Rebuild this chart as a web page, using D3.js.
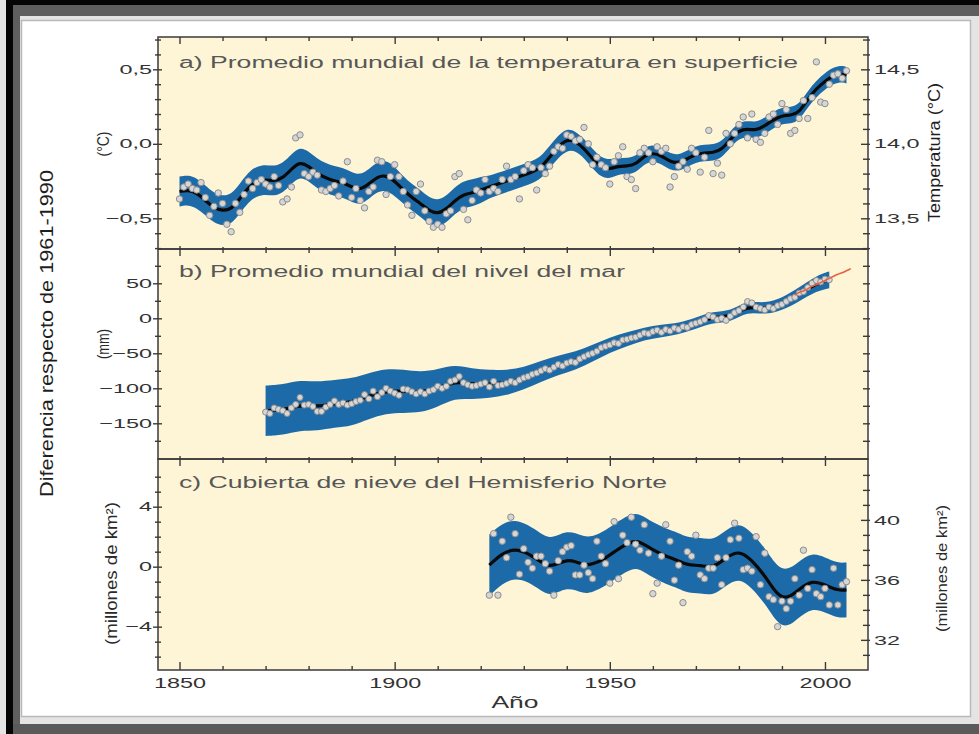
<!DOCTYPE html>
<html><head><meta charset="utf-8">
<script src="https://cdn.jsdelivr.net/npm/d3@7"></script>
<style>html,body{margin:0;padding:0;background:#fff;} svg{display:block;}</style>
</head><body>
<svg id="chart" width="979" height="734"></svg>
<script>
// ---------------- DATA ----------------
const xTickYears = [1850, 1860, 1870, 1880, 1890, 1900, 1910, 1920, 1930, 1940, 1950, 1960, 1970, 1980, 1990, 2000];
const xLabelYears = [1850, 1900, 1950, 2000];

// a) Global mean surface temperature anomaly (°C), annual 1850-2005
const tempStartYear = 1850;
const tempAnnual = [
 -0.37,-0.29,-0.27,-0.30,-0.31,-0.26,-0.36,-0.48,-0.42,-0.33,
 -0.40,-0.54,-0.59,-0.40,-0.46,-0.34,-0.25,-0.30,-0.26,-0.24,
 -0.27,-0.29,-0.22,-0.28,-0.39,-0.37,-0.29,0.04,0.06,-0.20,
 -0.22,-0.19,-0.21,-0.31,-0.32,-0.30,-0.28,-0.35,-0.25,-0.12,
 -0.36,-0.30,-0.38,-0.43,-0.32,-0.29,-0.11,-0.12,-0.34,-0.22,
 -0.14,-0.22,-0.32,-0.41,-0.48,-0.32,-0.27,-0.45,-0.52,-0.56,
 -0.54,-0.56,-0.47,-0.45,-0.22,-0.20,-0.44,-0.51,-0.38,-0.31,
 -0.33,-0.24,-0.32,-0.30,-0.32,-0.24,-0.15,-0.24,-0.22,-0.37,
 -0.18,-0.14,-0.16,-0.31,-0.16,-0.20,-0.15,-0.05,-0.02,-0.03,
 0.06,0.05,0.02,0.03,0.11,0.00,-0.14,-0.09,-0.14,-0.16,
 -0.27,-0.12,-0.08,-0.02,-0.22,-0.24,-0.30,-0.06,-0.03,-0.06,
 -0.12,-0.02,-0.05,-0.03,-0.29,-0.22,-0.15,-0.12,-0.17,-0.03,
 -0.06,-0.19,-0.09,0.09,-0.20,-0.13,-0.21,0.07,0.00,0.07,
 0.13,0.18,0.04,0.20,0.03,0.01,0.07,0.18,0.20,0.13,
 0.27,0.23,0.07,0.09,0.17,0.29,0.17,0.31,0.55,0.28,
 0.27,0.40,0.46,0.47,0.44,0.49
];
const tempSmoothYears = [1850,1852,1854,1856,1858,1860,1862,1864,1866,1868,1870,1872,1874,1876,1878,1880,1882,1884,1886,1888,1890,1892,1894,1896,1898,1900,
 1902,1904,1906,1908,1910,1912,1914,1916,1918,1920,1922,1924,1926,1928,1930,1932,1934,1936,1938,1940,1942,1944,1946,1948,1950,
 1952,1954,1956,1958,1960,1962,1964,1966,1968,1970,1972,1974,1976,1978,1980,1982,1984,1986,1988,1990,1992,1994,1996,1998,2000,2002,2004,2005];
const tempSmooth = [-0.32,-0.31,-0.33,-0.38,-0.43,-0.45,-0.44,-0.37,-0.29,-0.25,-0.24,-0.25,-0.23,-0.17,-0.12,-0.15,-0.20,-0.23,-0.25,-0.26,-0.29,-0.31,-0.27,-0.22,-0.21,-0.25,
 -0.31,-0.36,-0.40,-0.45,-0.47,-0.44,-0.38,-0.34,-0.33,-0.31,-0.29,-0.27,-0.25,-0.23,-0.21,-0.19,-0.16,-0.09,-0.02,0.03,0.02,-0.03,-0.10,-0.16,-0.17,
 -0.15,-0.15,-0.14,-0.08,-0.06,-0.08,-0.12,-0.13,-0.10,-0.07,-0.06,-0.06,-0.04,0.03,0.09,0.10,0.09,0.12,0.16,0.19,0.19,0.21,0.30,0.37,0.42,0.46,0.47,0.46];
const tempBandHalf = [0.10,0.10,0.10,0.10,0.10,0.10,0.10,0.10,0.10,0.10,0.10,0.10,0.10,0.10,0.10,0.10,0.10,0.10,0.10,0.10,0.10,0.10,0.10,0.10,0.10,0.10,
 0.09,0.09,0.09,0.09,0.09,0.09,0.09,0.09,0.09,0.09,0.075,0.075,0.075,0.075,0.075,0.075,0.075,0.075,0.075,0.075,0.065,0.065,0.065,0.065,0.065,
 0.055,0.055,0.055,0.055,0.055,0.055,0.055,0.055,0.055,0.055,0.055,0.055,0.055,0.055,0.055,0.055,0.055,0.055,0.055,0.055,0.055,0.055,0.055,0.055,0.055,0.055,0.055,0.055];
const tempLeftMajor = [-0.5, 0, 0.5];
const tempLeftLabels = ["\u22120,5", "0,0", "0,5"];
const tempLeftMinor = [-0.7,-0.6,-0.4,-0.3,-0.2,-0.1,0.1,0.2,0.3,0.4,0.6,0.7];
const tempRightMajor = [13.5, 14.0, 14.5];
const tempRightLabels = ["13,5", "14,0", "14,5"];
const tempRightMinor = [13.3,13.4,13.6,13.7,13.8,13.9,14.1,14.2,14.3,14.4,14.6,14.7];

// b) Global average sea level anomaly (mm), annual 1870-2001
const seaStartYear = 1870;
const seaAnnual = [
 -134,-136,-128,-130,-132,-136,-128,-123,-113,-124,
 -123,-126,-133,-133,-127,-123,-118,-123,-121,-124,
 -122,-119,-117,-109,-115,-104,-112,-106,-100,-104,
 -107,-110,-101,-102,-105,-108,-105,-108,-104,-102,
 -97,-100,-97,-90,-88,-83,-92,-95,-97,-96,
 -94,-92,-98,-90,-96,-95,-93,-90,-92,-88,
 -85,-83,-80,-78,-75,-72,-74,-70,-66,-68,
 -64,-62,-63,-58,-55,-52,-50,-47,-42,-40,
 -38,-35,-36,-31,-30,-28,-27,-24,-21,-22,
 -19,-17,-20,-16,-18,-14,-16,-12,-13,-9,
 -7,-5,-2,4,2,-2,0,-3,3,8,
 11,16,24,22,16,14,12,16,14,18,
 20,24,28,30,36,38,44,50,54,52,
 56,55
];
const seaSmoothYears = [1870,1874,1878,1882,1886,1890,1894,1898,1902,1906,1910,1914,1918,1922,1926,1930,1934,1938,1942,1946,1950,1954,1958,1962,1966,1970,1974,1978,1982,1986,1990,1994,1998,2001];
const seaSmooth = [-132,-131,-124,-126,-122,-120,-111,-104,-104,-106,-100,-90,-94,-94,-92,-86,-76,-67,-61,-50,-38,-30,-22,-18,-15,-7,2,2,18,13,20,34,50,55];
const seaBandHalf = [36,36,36,35,34,34,33,32,31,29,27,24,22,20,18,16,15,14,13,12,11,10,9,9,8,8,8,8,8,8,9,10,11,12];
const satYears = [1993,1994,1995,1996,1997,1998,1999,2000,2001,2002,2003,2004,2005,2006];
const satValues = [33,37,39,42,46,48,51,54,57,60,63,65,68,71];
const seaLeftMajor = [-150, -100, -50, 0, 50];
const seaLeftLabels = ["\u2212150", "\u2212100", "\u221250", "0", "50"];
const seaMinor = [-175,-125,-75,-25,25,75];
const seaRightTicks = [-175,-150,-125,-100,-75,-50,-25,0,25,50,75];

// c) Northern Hemisphere snow cover anomaly (million km²), annual 1922-2005
const snowStartYear = 1922;
const snowAnnual = [
 -1.9,2.2,-1.9,1.7,0.6,3.3,2.2,-0.5,1.2,0.3,
 -0.1,0.7,0.7,0.2,-0.3,-1.9,0.4,1.0,1.3,1.4,
 -0.55,-0.55,0.1,-0.4,-0.8,1.7,0.7,0.2,-1.1,3.0,
 -0.8,2.1,1.6,3.3,1.5,1.1,2.8,0.9,-1.8,-1.1,
 0.7,2.8,1.7,-0.9,0.1,-2.4,1.0,0.7,2.1,-0.55,
 -0.8,-0.1,-0.1,0.6,-1.2,0.6,1.8,2.9,1.9,-0.2,
 -0.1,-0.3,2.0,-1.2,0.9,-2.0,-2.2,-4.0,-2.3,-2.8,
 -2.3,-0.8,-1.9,1.1,-1.45,-0.2,-1.8,-2.0,-1.45,-2.55,
 -0.1,-2.55,-1.2,-1.0
];
const snowSmoothYears = [1922,1925,1928,1931,1934,1936,1938,1940,1942,1944,1946,1949,1952,1955,1957,1960,1963,1966,1968,1971,1974,1977,1980,1983,1986,1988,1990,1992,1994,1997,2000,2003,2005];
const snowSmooth = [0.1,0.9,1.2,0.9,0.3,0.0,0.2,0.45,0.35,0.1,0.15,0.55,1.2,1.7,1.7,1.1,0.7,0.4,0.1,0.1,-0.1,0.6,1.1,0.45,-0.6,-1.5,-2.1,-2.0,-1.5,-0.9,-1.2,-1.6,-1.55];
const snowBandHalf = [2.05,2.0,1.95,1.9,1.9,1.9,1.9,1.9,1.9,1.9,1.85,1.85,1.85,1.83,1.83,1.85,1.85,1.85,1.85,1.85,1.85,1.85,1.85,1.85,1.85,1.87,1.89,1.89,1.87,1.85,1.83,1.83,1.83];
const snowLeftMajor = [-4, 0, 4];
const snowLeftLabels = ["\u22124", "0", "4"];
const snowLeftMinor = [-6,-5,-3,-2,-1,1,2,3,5,6];
const snowRightMajor = [32, 36, 40];
const snowRightLabels = ["32", "36", "40"];
const snowRightMinor = [31,33,34,35,37,38,39,41,42,43];

// ---------------- DRAW ----------------
const svg = d3.select('#chart');
const FONT = 'Liberation Sans, Arial, Helvetica, sans-serif';
const CREAM = '#fdf5d6', BLUE = '#1d6aa9', FRAME = '#3a3a3a';

// outer photo frame
svg.append('rect').attr('x',0).attr('y',0).attr('width',979).attr('height',734).attr('fill','#e4e4e4');
svg.append('rect').attr('x',6).attr('y',0).attr('width',973).attr('height',5).attr('fill','#050505');
svg.append('rect').attr('x',6).attr('y',0).attr('width',7).attr('height',734).attr('fill','#050505');
svg.append('rect').attr('x',13).attr('y',5).attr('width',966).attr('height',11).attr('fill','#5f5f5f');
svg.append('rect').attr('x',13).attr('y',5).attr('width',7).attr('height',729).attr('fill','#5f5f5f');
svg.append('rect').attr('x',13).attr('y',724).attr('width',966).attr('height',10).attr('fill','#5a5a5a');
svg.append('rect').attr('x',21.5).attr('y',20.5).attr('width',949).attr('height',696).attr('fill','#ffffff').attr('stroke','#b9b9b9').attr('stroke-width',1.5);

const x = d3.scaleLinear().domain([1845, 2010]).range([158, 868]);
const yA = d3.scaleLinear().domain([-0.706, 0.717]).range([249, 37]);
const yAR = d3.scaleLinear().domain([13.294, 14.717]).range([249, 37]);
const yB = d3.scaleLinear().domain([-201, 99]).range([459, 249]);
const yC = d3.scaleLinear().domain([-6.89, 7.18]).range([670, 459]);
const yCR = d3.scaleLinear().domain([-6.89 + 36.88, 7.18 + 36.88]).range([670, 459]);

const panels = [{top:37,bottom:249},{top:249,bottom:459},{top:459,bottom:670}];
panels.forEach(p => {
  svg.append('rect').attr('x',158).attr('y',p.top).attr('width',710).attr('height',p.bottom-p.top).attr('fill',CREAM);
});

function drawSeries(yScale, startYear, annual, sYears, sVals, sHalf, r) {
  const sm = sYears.map((yr,i)=>({yr, v:sVals[i], h:sHalf[i]}));
  svg.append('path').datum(sm)
    .attr('d', d3.area().curve(d3.curveBasis).x(d=>x(d.yr)).y0(d=>yScale(d.v - d.h)).y1(d=>yScale(d.v + d.h)))
    .attr('fill', BLUE);
  svg.append('path').datum(sm)
    .attr('d', d3.line().curve(d3.curveBasis).x(d=>x(d.yr)).y(d=>yScale(d.v)))
    .attr('fill','none').attr('stroke','#0a0a0a').attr('stroke-width',3.2);
  svg.append('g').selectAll('circle').data(annual).join('circle')
    .attr('cx',(d,i)=>x(startYear+i)).attr('cy',d=>yScale(d)).attr('r',r)
    .attr('fill','#d6d6d6').attr('stroke','#8c8c8c').attr('stroke-width',1);
}
drawSeries(yA, tempStartYear, tempAnnual, tempSmoothYears, tempSmooth, tempBandHalf, 3.2);
drawSeries(yB, seaStartYear, seaAnnual, seaSmoothYears, seaSmooth, seaBandHalf, 3.0);
svg.append('path').datum(satYears.map((yr,i)=>({yr, v:satValues[i]})))
  .attr('d', d3.line().curve(d3.curveMonotoneX).x(d=>x(d.yr)).y(d=>yB(d.v)))
  .attr('fill','none').attr('stroke','#e8613f').attr('stroke-width',1.6);
drawSeries(yC, snowStartYear, snowAnnual, snowSmoothYears, snowSmooth, snowBandHalf, 3.2);

// panel frames
panels.forEach(p => {
  svg.append('rect').attr('x',158).attr('y',p.top).attr('width',710).attr('height',p.bottom-p.top)
    .attr('fill','none').attr('stroke',FRAME).attr('stroke-width',1.5);
});

function styleAxis(g) {
  g.select('.domain').remove();
  g.selectAll('line').attr('stroke', FRAME).attr('stroke-width', 1.4);
  g.attr('font-family', FONT).attr('font-size', 13).attr('fill','#333');
  g.selectAll('text').attr('fill', '#333');
}

// x ticks on each panel (inward)
panels.forEach((p, idx) => {
  const minorYears = xTickYears.filter(v => !xLabelYears.includes(v));
  svg.append('g').attr('transform',`translate(0,${p.top})`)
    .call(d3.axisBottom(x).tickValues(minorYears).tickSize(4).tickFormat('')).call(styleAxis);
  svg.append('g').attr('transform',`translate(0,${p.top})`)
    .call(d3.axisBottom(x).tickValues(xLabelYears).tickSize(7).tickFormat('')).call(styleAxis);
  const bm = idx === 2 ? 4 : 2, bM = idx === 2 ? 8 : 3;
  svg.append('g').attr('transform',`translate(0,${p.bottom})`)
    .call(d3.axisTop(x).tickValues(minorYears).tickSize(bm).tickFormat('')).call(styleAxis);
  svg.append('g').attr('transform',`translate(0,${p.bottom})`)
    .call(d3.axisTop(x).tickValues(xLabelYears).tickSize(bM).tickFormat('')).call(styleAxis);
});
// x labels
const xl = svg.append('g').attr('transform','translate(0,670)')
  .call(d3.axisBottom(x).tickValues(xLabelYears).tickSize(0).tickPadding(7).tickFormat(d3.format('d')))
  .call(styleAxis);
xl.attr('font-size', 15);
xl.selectAll('text').attr('transform','scale(1.56,1)').attr('fill','#333');

// y axes
function leftAxis(scale, major, labels, minor) {
  svg.append('g').attr('transform','translate(158,0)')
    .call(d3.axisLeft(scale).tickValues(minor).tickSize(3).tickFormat('')).call(styleAxis)
    .selectAll('line').attr('x1', 3);
  const g = svg.append('g').attr('transform','translate(158,0)')
    .call(d3.axisLeft(scale).tickValues(major).tickSize(5).tickPadding(1).tickFormat((d,i)=>labels[i])).call(styleAxis);
  g.selectAll('line').attr('x1', 4);
  g.selectAll('text').attr('x', -6/1.8).attr('transform','scale(1.8,1)');
}
function rightAxis(scale, major, labels, minor) {
  svg.append('g').attr('transform','translate(868,0)')
    .call(d3.axisRight(scale).tickValues(minor).tickSize(2).tickFormat('')).call(styleAxis)
    .selectAll('line').attr('x1', -5);
  if (major.length) {
    const g = svg.append('g').attr('transform','translate(868,0)')
      .call(d3.axisRight(scale).tickValues(major).tickSize(2).tickPadding(5).tickFormat((d,i)=>labels[i])).call(styleAxis);
    g.selectAll('line').attr('x1', -7);
    g.selectAll('text').attr('x', 6/1.8).attr('transform','scale(1.8,1)');
  }
}
leftAxis(yA, tempLeftMajor, tempLeftLabels, tempLeftMinor);
rightAxis(yAR, tempRightMajor, tempRightLabels, tempRightMinor);
leftAxis(yB, seaLeftMajor, seaLeftLabels, seaMinor);
rightAxis(yB, [], [], seaRightTicks);
leftAxis(yC, snowLeftMajor, snowLeftLabels, snowLeftMinor);
rightAxis(yCR, snowRightMajor, snowRightLabels, snowRightMinor);

// panel titles
const titles = [
  {t:'a) Promedio mundial de la temperatura en superficie', y:68, w:619},
  {t:'b) Promedio mundial del nivel del mar', y:277, w:446},
  {t:'c) Cubierta de nieve del Hemisferio Norte', y:488, w:488}
];
titles.forEach(d => {
  svg.append('text').attr('x',179).attr('y',d.y).attr('font-family',FONT).attr('font-size',16)
    .attr('fill','#575757').attr('textLength',d.w).attr('lengthAdjust','spacingAndGlyphs').text(d.t);
});

// rotated axis titles
const vtitles = [
  {t:'Diferencia respecto de 1961-1990', cx:47, cy:333.5, len:327, fs:18, fill:'#1e1e1e'},
  {t:'(\u00b0C)', cx:103, cy:144, len:25, fs:17, fill:'#2a2a2a'},
  {t:'(mm)', cx:103, cy:344, len:30, fs:17, fill:'#2a2a2a'},
  {t:'(millones de km\u00b2)', cx:111.5, cy:573.5, len:143, fs:16, fill:'#2a2a2a'},
  {t:'Temperatura (\u00b0C)', cx:934, cy:152.5, len:139, fs:16, fill:'#1e1e1e'},
  {t:'(millones de km\u00b2)', cx:941.5, cy:568.5, len:127, fs:15, fill:'#2a2a2a'}
];
vtitles.forEach(d => {
  svg.append('text').attr('transform',`translate(${d.cx},${d.cy}) rotate(-90)`)
    .attr('text-anchor','middle').attr('dominant-baseline','central')
    .attr('font-family',FONT).attr('font-size',d.fs).attr('fill',d.fill)
    .attr('textLength',d.len).attr('lengthAdjust','spacingAndGlyphs').text(d.t);
});

// x-axis title
svg.append('text').attr('x',515).attr('y',708).attr('text-anchor','middle')
  .attr('font-family',FONT).attr('font-size',17).attr('fill','#333')
  .attr('textLength',47).attr('lengthAdjust','spacingAndGlyphs').text('A\u00f1o');
</script>
</body></html>
